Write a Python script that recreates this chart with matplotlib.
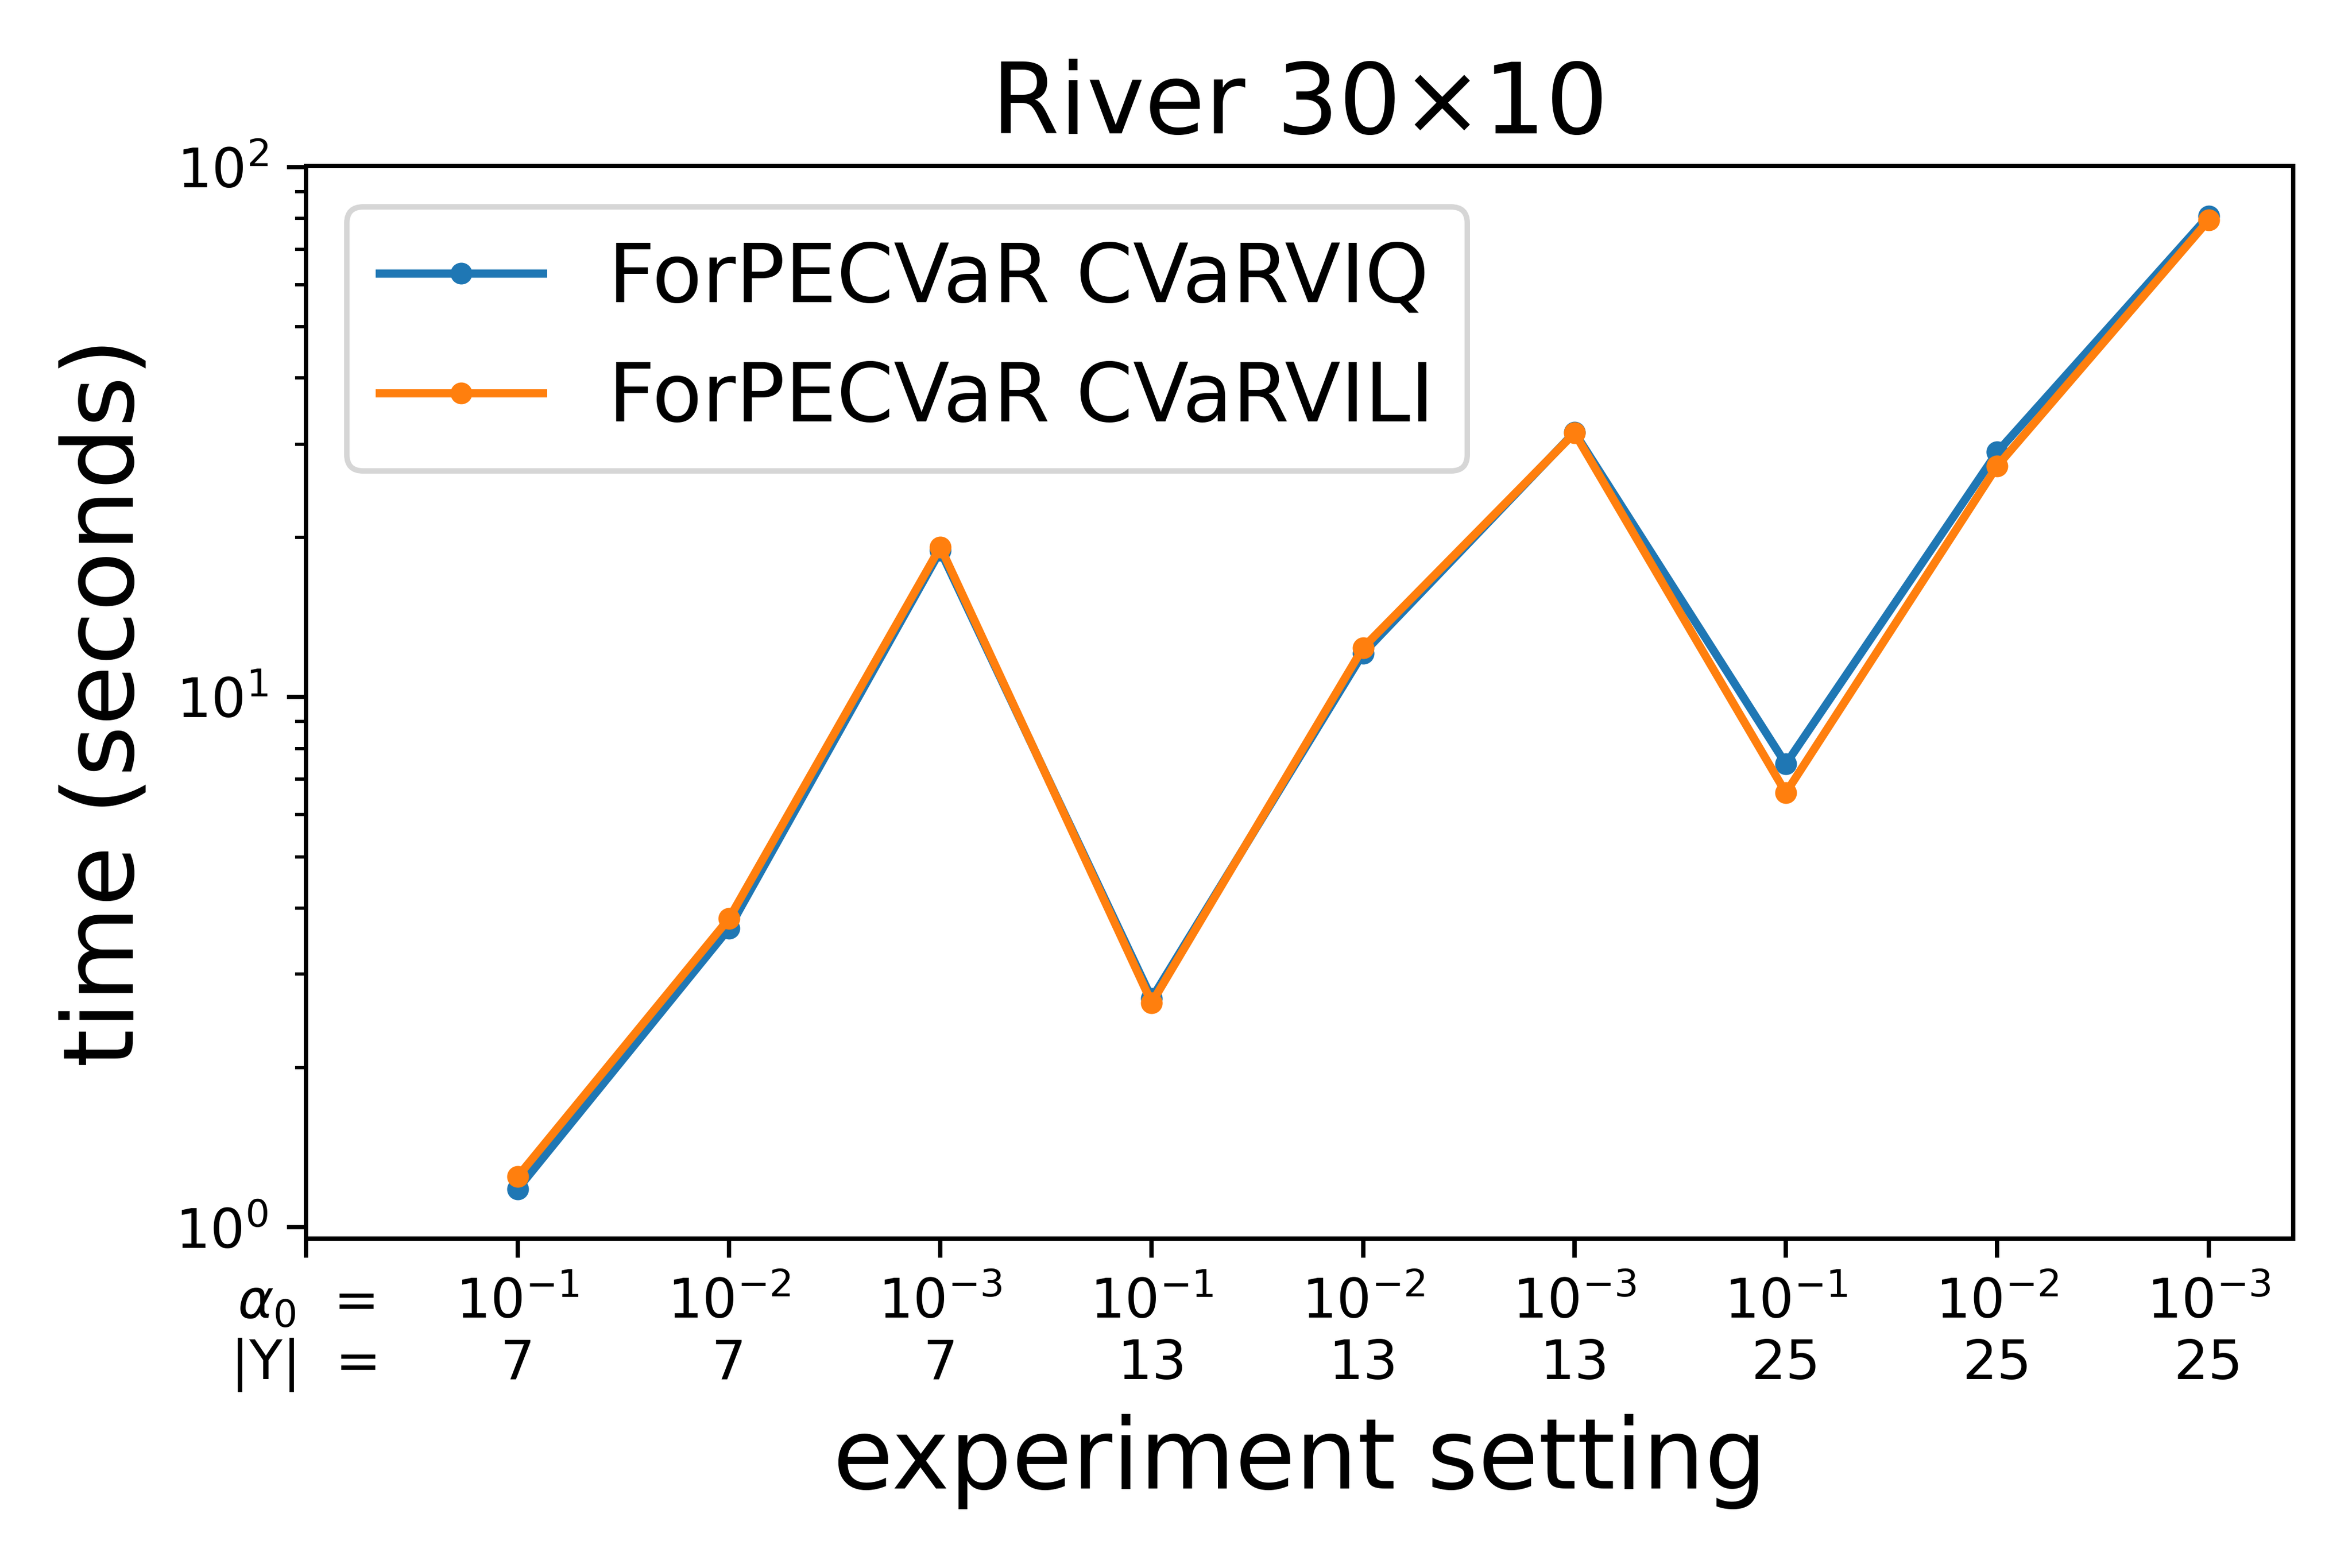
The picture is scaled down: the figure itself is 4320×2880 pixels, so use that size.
import matplotlib

matplotlib.use("Agg")

import matplotlib.pyplot as plt

# experiment settings (alpha_0, |Y|)
alphas = ["$10^{-1}$", "$10^{-2}$", "$10^{-3}$"] * 3
ysizes = [7, 7, 7, 13, 13, 13, 25, 25, 25]

# run times in seconds
cvarviq = [1.18, 3.66, 18.9, 2.70, 12.1, 31.6, 7.48, 29.0, 80.9]
cvarvili = [1.245, 3.82, 19.2, 2.65, 12.4, 31.5, 6.60, 27.3, 79.4]

x = list(range(1, len(cvarviq) + 1))

fig = plt.figure(figsize=(6, 4), dpi=720)
ax = fig.add_axes([0.1302, 0.210, 0.975 - 0.1302, 0.894 - 0.210])

ax.plot(x, cvarviq, marker=".", label="ForPECVaR CVaRVIQ")
ax.plot(x, cvarvili, marker=".", label="ForPECVaR CVaRVILI")

ax.set_yscale("log")
ax.set_xlim(0, 9.4)
ax.set_ylim(0.951, 100.4)

ticks = [0] + x
labels = ["$\\alpha_0$  =\n|Y|  ="] + [a + "\n" + str(n) for a, n in zip(alphas, ysizes)]
ax.set_xticks(ticks)
ax.set_xticklabels(labels)

ax.set_title("River 30×10", fontsize=18)
ax.set_xlabel("experiment setting", fontsize=18)
ax.set_ylabel("time (seconds)", fontsize=18)
ax.legend(loc="upper left", fontsize=15)

fig.savefig("out.png", dpi=720)
